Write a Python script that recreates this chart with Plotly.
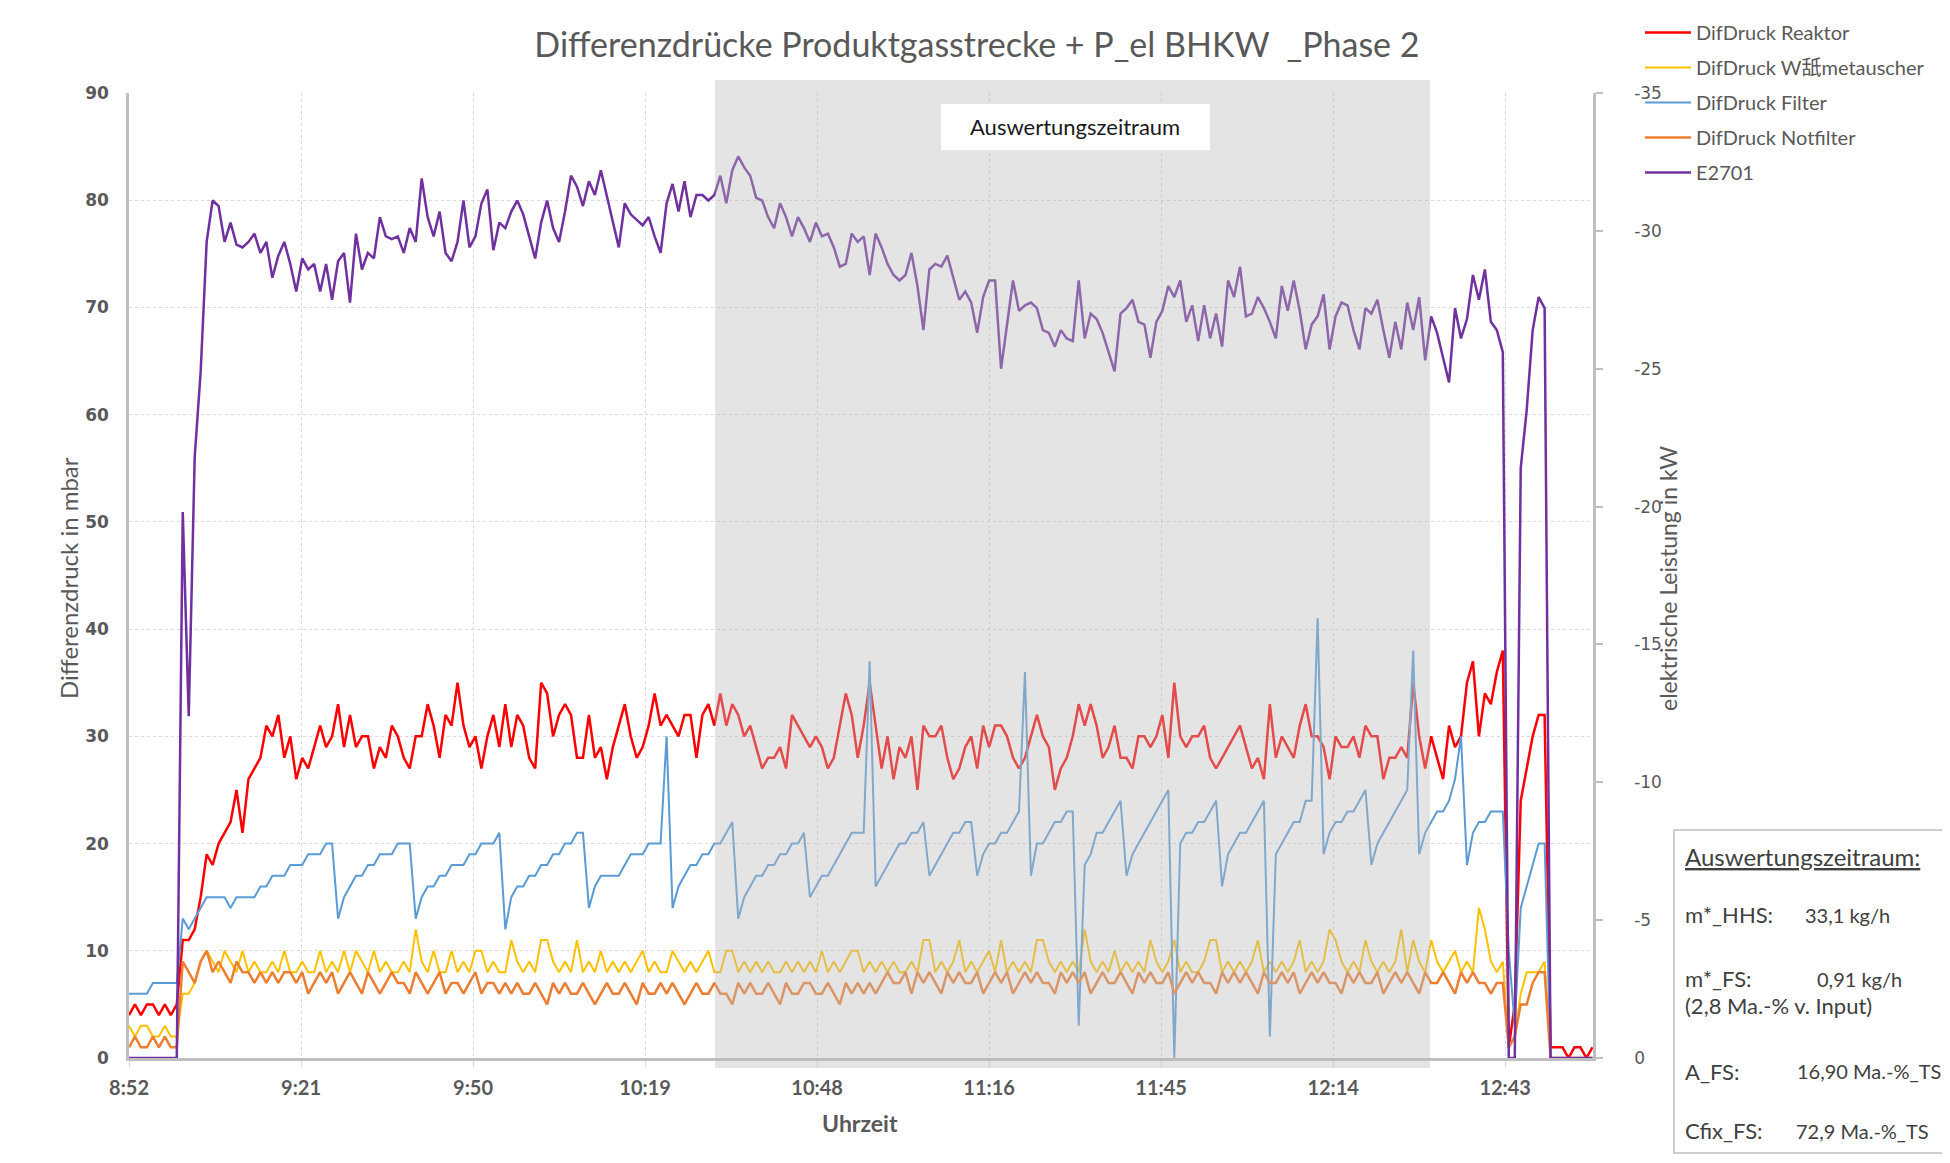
import pandas as pd
import plotly.graph_objects as go

start = "2020-01-01 08:52:48"

reaktor = [
    4, 5, 4, 5, 5, 4, 5, 4, 5,
    11, 11, 12, 15, 19, 18, 20, 21, 22, 25,
    21, 26, 27, 28, 31, 30, 32, 28, 30, 26,
    28, 27, 29, 31, 29, 30, 33, 29, 32, 29,
    30, 30, 27, 29, 28, 31, 30, 28, 27, 30,
    30, 33, 31, 28, 32, 31, 35, 31, 29, 30,
    27, 30, 32, 29, 33, 29, 32, 31, 28, 27,
    35, 34, 30, 32, 33, 32, 28, 28, 32, 28,
    29, 26, 29, 31, 33, 30, 28, 29, 31, 34,
    31, 32, 31, 30, 32, 32, 28, 32, 33, 31,
    34, 31, 33, 32, 30, 31, 29, 27, 28, 28,
    29, 27, 32, 31, 30, 29, 30, 29, 27, 28,
    31, 34, 32, 28, 31, 35, 31, 27, 30, 26,
    29, 28, 30, 25, 31, 30, 30, 31, 28, 26,
    27, 29, 30, 27, 31, 29, 31, 31, 30, 28,
    27, 28, 30, 32, 30, 29, 25, 27, 28, 30,
    33, 31, 33, 31, 28, 29, 31, 28, 28, 27,
    30, 30, 29, 30, 32, 28, 35, 30, 29, 30,
    30, 31, 28, 27, 28, 29, 30, 31, 29, 27,
    28, 26, 33, 28, 30, 29, 28, 31, 33, 30,
    30, 29, 26, 30, 29, 29, 30, 28, 31, 30,
    30, 26, 28, 28, 29, 28, 35, 30, 27, 30,
    28, 26, 31, 29, 30, 35, 37, 30, 34, 33,
    36, 38, 1, 5, 24, 27, 30, 32, 32, 1,
    1, 1, 0, 1, 1, 0, 1,
]

waermetauscher = [
    3, 2, 3, 3, 2, 2, 3, 2, 2,
    6, 6, 7, 9, 10, 9, 8, 10, 9, 8,
    10, 8, 9, 8, 8, 9, 8, 10, 8, 8,
    9, 8, 8, 10, 8, 9, 8, 10, 8, 10,
    9, 8, 10, 8, 9, 8, 8, 9, 8, 12,
    9, 8, 10, 8, 8, 10, 8, 9, 8, 10,
    10, 8, 9, 8, 8, 11, 9, 8, 9, 8,
    11, 11, 9, 8, 9, 8, 11, 8, 9, 8,
    10, 8, 9, 8, 9, 8, 9, 10, 8, 9,
    8, 8, 10, 9, 8, 9, 8, 9, 10, 8,
    8, 10, 10, 8, 9, 8, 9, 8, 9, 8,
    8, 9, 8, 9, 8, 9, 8, 10, 8, 9,
    8, 9, 10, 10, 8, 9, 8, 9, 8, 9,
    8, 8, 9, 8, 11, 11, 8, 9, 8, 9,
    11, 8, 9, 8, 9, 10, 8, 11, 8, 9,
    8, 9, 8, 11, 11, 9, 8, 9, 8, 9,
    8, 12, 9, 8, 9, 8, 10, 8, 9, 8,
    9, 8, 11, 9, 8, 9, 11, 8, 9, 8,
    8, 9, 11, 11, 8, 9, 8, 9, 8, 9,
    11, 8, 9, 8, 9, 8, 9, 11, 8, 9,
    8, 9, 12, 11, 9, 8, 9, 8, 11, 9,
    8, 9, 8, 9, 12, 8, 11, 9, 8, 11,
    9, 8, 9, 10, 8, 9, 8, 14, 12, 9,
    8, 9, 1, 2, 6, 8, 8, 8, 9, 0,
    0, 0, 0, 0, 0, 0, 0,
]

filter_dp = [
    6, 6, 6, 6, 7, 7, 7, 7, 7,
    13, 12, 13, 14, 15, 15, 15, 15, 14, 15,
    15, 15, 15, 16, 16, 17, 17, 17, 18, 18,
    18, 19, 19, 19, 20, 20, 13, 15, 16, 17,
    17, 18, 18, 19, 19, 19, 20, 20, 20, 13,
    15, 16, 16, 17, 17, 18, 18, 18, 19, 19,
    20, 20, 20, 21, 12, 15, 16, 16, 17, 17,
    18, 18, 19, 19, 20, 20, 21, 21, 14, 16,
    17, 17, 17, 17, 18, 19, 19, 19, 20, 20,
    20, 30, 14, 16, 17, 18, 18, 19, 19, 20,
    20, 21, 22, 13, 15, 16, 17, 17, 18, 18,
    19, 19, 20, 20, 21, 15, 16, 17, 17, 18,
    19, 20, 21, 21, 21, 37, 16, 17, 18, 19,
    20, 20, 21, 21, 22, 17, 18, 19, 20, 21,
    21, 22, 22, 17, 19, 20, 20, 21, 21, 22,
    23, 36, 17, 20, 20, 21, 22, 22, 23, 23,
    3, 18, 19, 21, 21, 22, 23, 24, 17, 19,
    20, 21, 22, 23, 24, 25, 0, 20, 21, 21,
    22, 22, 23, 24, 16, 19, 20, 21, 21, 22,
    23, 24, 2, 19, 20, 21, 22, 22, 24, 24,
    41, 19, 21, 22, 22, 23, 23, 24, 25, 18,
    20, 21, 22, 23, 24, 25, 38, 19, 21, 22,
    23, 23, 24, 26, 30, 18, 21, 22, 22, 23,
    23, 23, 10, 3, 14, 16, 18, 20, 20, 0,
    0, 0, 0, 0, 0, 0, 0,
]

notfilter = [
    1, 2, 1, 1, 2, 1, 2, 1, 1,
    9, 8, 7, 9, 10, 8, 9, 8, 7, 9,
    8, 8, 7, 8, 7, 8, 7, 8, 8, 7,
    8, 6, 7, 8, 7, 8, 6, 7, 8, 7,
    6, 8, 7, 6, 7, 8, 7, 7, 6, 8,
    7, 6, 7, 8, 6, 7, 7, 6, 7, 8,
    6, 7, 7, 6, 7, 6, 7, 6, 6, 7,
    6, 5, 7, 6, 7, 6, 6, 7, 6, 5,
    6, 7, 6, 6, 7, 6, 5, 7, 6, 6,
    7, 6, 7, 6, 5, 6, 7, 6, 6, 7,
    6, 6, 5, 7, 6, 7, 6, 6, 7, 6,
    5, 7, 6, 6, 7, 7, 6, 6, 7, 6,
    5, 7, 6, 7, 6, 7, 6, 7, 8, 7,
    7, 8, 6, 8, 7, 8, 7, 6, 8, 7,
    8, 7, 7, 8, 6, 7, 8, 7, 8, 6,
    7, 8, 7, 8, 7, 7, 6, 8, 7, 8,
    7, 8, 6, 7, 8, 7, 7, 8, 7, 6,
    8, 7, 8, 7, 7, 8, 6, 7, 8, 7,
    8, 7, 7, 6, 8, 7, 8, 7, 8, 7,
    6, 8, 7, 7, 8, 7, 8, 6, 7, 8,
    7, 8, 7, 7, 6, 8, 7, 8, 7, 7,
    8, 6, 7, 8, 7, 8, 7, 6, 8, 7,
    7, 8, 7, 6, 8, 7, 8, 7, 7, 6,
    7, 7, 1, 2, 5, 5, 7, 8, 8, 0,
    0, 0, 0, 0, 0, 0, 0,
]

# elektrische Leistung BHKW in kW (negativ = Abgabe)
e2701 = [
    0, 0, 0, 0, 0, 0, 0, 0, 0,
    -19.8, -12.4, -21.8, -24.9, -29.6,
    -31.1, -30.9, -29.6, -30.3, -29.5, -29.4, -29.6, -29.9, -29.2, -29.6,
    -28.3, -29.1, -29.6, -28.8, -27.8, -29.0, -28.6, -28.8, -27.8, -28.8,
    -27.5, -28.9, -29.2, -27.4, -29.9, -28.6, -29.2, -29.0, -30.5, -29.8,
    -29.7, -29.8, -29.2, -30.1, -29.6, -31.9, -30.5, -29.8, -30.7, -29.2,
    -28.9, -29.6, -31.1, -29.4, -29.8, -31.0, -31.5, -29.3, -30.3, -30.1,
    -30.7, -31.1, -30.6, -29.8, -29.0, -30.3, -31.1, -30.1, -29.6, -30.7,
    -32.0, -31.6, -30.9, -31.8, -31.3, -32.2, -31.3, -30.3, -29.4, -31.0,
    -30.6, -30.4, -30.2, -30.5, -29.8, -29.2, -31.0, -31.7, -30.7, -31.8,
    -30.5, -31.3, -31.3, -31.1, -31.3, -32.0, -31.0, -32.2, -32.7, -32.3,
    -32.0, -31.2, -31.1, -30.5, -30.1, -31.0, -30.5, -29.8, -30.5, -30.1,
    -29.6, -30.3, -29.8, -29.9, -29.4, -28.7, -28.8, -29.9, -29.6, -29.8,
    -28.4, -29.9, -29.4, -28.8, -28.4, -28.2, -28.4, -29.2, -28.0, -26.4,
    -28.6, -28.8, -28.7, -29.1, -28.3, -27.5, -27.8, -27.4, -26.3, -27.6,
    -28.2, -28.2, -25.0, -26.6, -28.2, -27.1, -27.3, -27.4, -27.2, -26.4,
    -26.3, -25.8, -26.4, -26.1, -26.0, -28.2, -26.1, -27.0, -26.8, -26.3,
    -25.6, -24.9, -27.0, -27.2, -27.5, -26.7, -26.6, -25.4, -26.7, -27.1,
    -28.0, -27.6, -28.2, -26.7, -27.3, -26.0, -27.3, -26.1, -27.0, -25.8,
    -28.2, -27.6, -28.7, -26.9, -27.0, -27.6, -27.2, -26.7, -26.1, -28.0,
    -27.1, -28.2, -27.1, -25.7, -26.6, -26.9, -27.7, -25.7, -26.9, -27.4,
    -27.3, -26.4, -25.7, -27.2, -27.0, -27.5, -26.4, -25.4, -26.7, -25.7,
    -27.4, -26.4, -27.6, -25.3, -26.9, -26.3, -25.4, -24.5, -27.2, -26.1,
    -26.8, -28.4, -27.5, -28.6, -26.7, -26.4, -25.6, 0, 0, -21.4,
    -23.5, -26.4, -27.6, -27.2, 0, 0, 0, 0, 0, 0,
    0, 0,
]

tick_zeiten = ["08:52:48", "09:21:36", "09:50:24", "10:19:12", "10:48:00",
               "11:16:48", "11:45:36", "12:14:24", "12:43:12"]
tick_labels = ["8:52", "9:21", "9:50", "10:19", "10:48", "11:16", "11:45", "12:14", "12:43"]
kw_ticks = [0, -5, -10, -15, -20, -25, -30, -35]
kw_labels = ["0", "-5", "-10", "-15", "-20", "-25", "-30", "-35"]
achse_von = "2020-01-01 08:52:48"
achse_bis = "2020-01-01 12:57:54"
auswertung_von = "2020-01-01 10:30:54"
auswertung_bis = "2020-01-01 12:30:36"

zeit = pd.date_range(start, periods=len(reaktor), freq="min")

grau = "#595959"
achsgrau = "#BFBFBF"
lato = "Lato, Noto Sans CJK JP, sans-serif"

fig = go.Figure()
serien = [
    ("DifDruck Reaktor", reaktor, "#FF0000", 2.5),
    ("DifDruck W舐metauscher", waermetauscher, "#FFC000", 2),
    ("DifDruck Filter", filter_dp, "#5B9BD5", 2),
    ("DifDruck Notfilter", notfilter, "#ED7D31", 2.5),
]
for name, werte, farbe, breite in serien:
    fig.add_trace(go.Scatter(x=zeit, y=werte, name=name, mode="lines", legendgroup=name,
                             line=dict(color=farbe, width=breite)))
fig.add_trace(go.Scatter(x=zeit, y=e2701, name="E2701", mode="lines", legendgroup="E2701",
                         yaxis="y2", line=dict(color="#7030A0", width=2.5)))

fig.update_layout(
    width=1934, height=1147,
    margin=dict(l=121, r=349, t=85, b=97, autoexpand=False),
    plot_bgcolor="white", paper_bgcolor="white",
    title=dict(text="Differenzdrücke Produktgasstrecke + P_el BHKW \u00a0_Phase 2",
               x=0.501, xanchor="center", y=0.9677, yanchor="middle",
               font=dict(family=lato, size=34, color=grau)),
    xaxis=dict(type="date", range=[achse_von, achse_bis],
               tickvals=["2020-01-01 " + z for z in tick_zeiten], ticktext=tick_labels,
               showgrid=True, gridcolor="#D9D9D9", griddash="dot", gridwidth=1,
               showline=True, linecolor=achsgrau, linewidth=2.5,
               ticks="outside", ticklen=6, tickcolor="#D9D9D9",
               tickfont=dict(family=lato, size=20, color=grau, weight="bold"),
               ticklabelstandoff=4),
    yaxis=dict(range=[0, 90], dtick=10, zeroline=False,
               showgrid=True, gridcolor="#D9D9D9", griddash="dot", gridwidth=1,
               showline=True, linecolor=achsgrau, linewidth=2.5,
               tickfont=dict(family="DejaVu Sans", size=17, color=grau, weight="bold"),
               ticklabelstandoff=14),
    yaxis2=dict(overlaying="y", side="right", range=[0, -35], zeroline=False,
                tickvals=kw_ticks, ticktext=kw_labels,
                showgrid=False, showline=True, linecolor=achsgrau, linewidth=2.5,
                ticks="outside", ticklen=7, tickwidth=2, tickcolor=achsgrau,
                tickfont=dict(family="DejaVu Sans", size=17, color=grau),
                ticklabelstandoff=28),
    legend=dict(x=1.0321, y=1.0829, xanchor="left", yanchor="top",
                font=dict(family=lato, size=20, color=grau), itemwidth=46,
                tracegroupgap=6, bgcolor="rgba(0,0,0,0)"),
    showlegend=True,
)

# Auswertungszeitraum (halbtransparent über den Linien)
fig.add_shape(type="rect", xref="x", yref="paper", x0=auswertung_von, x1=auswertung_bis,
              y0=-0.0104, y1=1.0135, fillcolor="rgba(187,187,187,0.4)",
              line=dict(width=0), layer="above")
fig.add_shape(type="rect", xref="paper", yref="paper", x0=0.5546, x1=0.7384, y0=0.9409, y1=0.9886,
              fillcolor="white", line=dict(width=0), layer="above")
fig.add_annotation(text="Auswertungszeitraum", xref="paper", yref="paper", x=0.6465, y=0.9648,
                   xanchor="center", yanchor="middle", showarrow=False,
                   font=dict(family=lato, size=22, color="#1A1A1A"))

# Achsentitel
fig.add_annotation(text="Differenzdruck in mbar", xref="paper", yref="paper", x=-0.0417, y=0.4974,
                   xanchor="center", yanchor="middle", textangle=-90, showarrow=False,
                   font=dict(family=lato, size=24, color=grau))
fig.add_annotation(text="elektrische Leistung in kW", xref="paper", yref="paper", x=1.0512, y=0.4974,
                   xanchor="center", yanchor="middle", textangle=-90, showarrow=False,
                   font=dict(family=lato, size=23, color=grau))
fig.add_annotation(text="<b>Uhrzeit</b>", xref="paper", yref="paper", x=0.4993, y=-0.0674,
                   xanchor="center", yanchor="middle", showarrow=False,
                   font=dict(family=lato, size=23, color=grau))

# Infokasten
fig.add_shape(type="rect", xref="paper", yref="paper", x0=1.0553, x1=1.2425, y0=-0.0984, y1=0.2363,
              fillcolor="white", line=dict(color=achsgrau, width=1.5), layer="above")
box_zeilen = [
    ("<u>Auswertungszeitraum:</u>", None, 0.2083, 24),
    ("m*_HHS:", "33,1 kg/h", 0.1482, 22),
    ("m*_FS:", "0,91 kg/h", 0.0819, 22),
    ("(2,8 Ma.-% v. Input)", None, 0.0549, 22),
    ("A_FS:", "16,90 Ma.-%_TS", -0.0135, 22),
    ("Cfix_FS:", "72,9 Ma.-%_TS", -0.0756, 22),
]
wert_x = {"33,1 kg/h": 1.1434, "0,91 kg/h": 1.1516, "16,90 Ma.-%_TS": 1.1380, "72,9 Ma.-%_TS": 1.1370}
for label, wert, y, groesse in box_zeilen:
    fig.add_annotation(text=label, xref="paper", yref="paper", x=1.0615, y=y,
                       xanchor="left", yanchor="middle", showarrow=False,
                       font=dict(family=lato, size=groesse, color="#404040"))
    if wert:
        fig.add_annotation(text=wert, xref="paper", yref="paper", x=wert_x[wert], y=y,
                           xanchor="left", yanchor="middle", showarrow=False,
                           font=dict(family=lato, size=20, color="#404040"))

fig.write_html("out.html")
